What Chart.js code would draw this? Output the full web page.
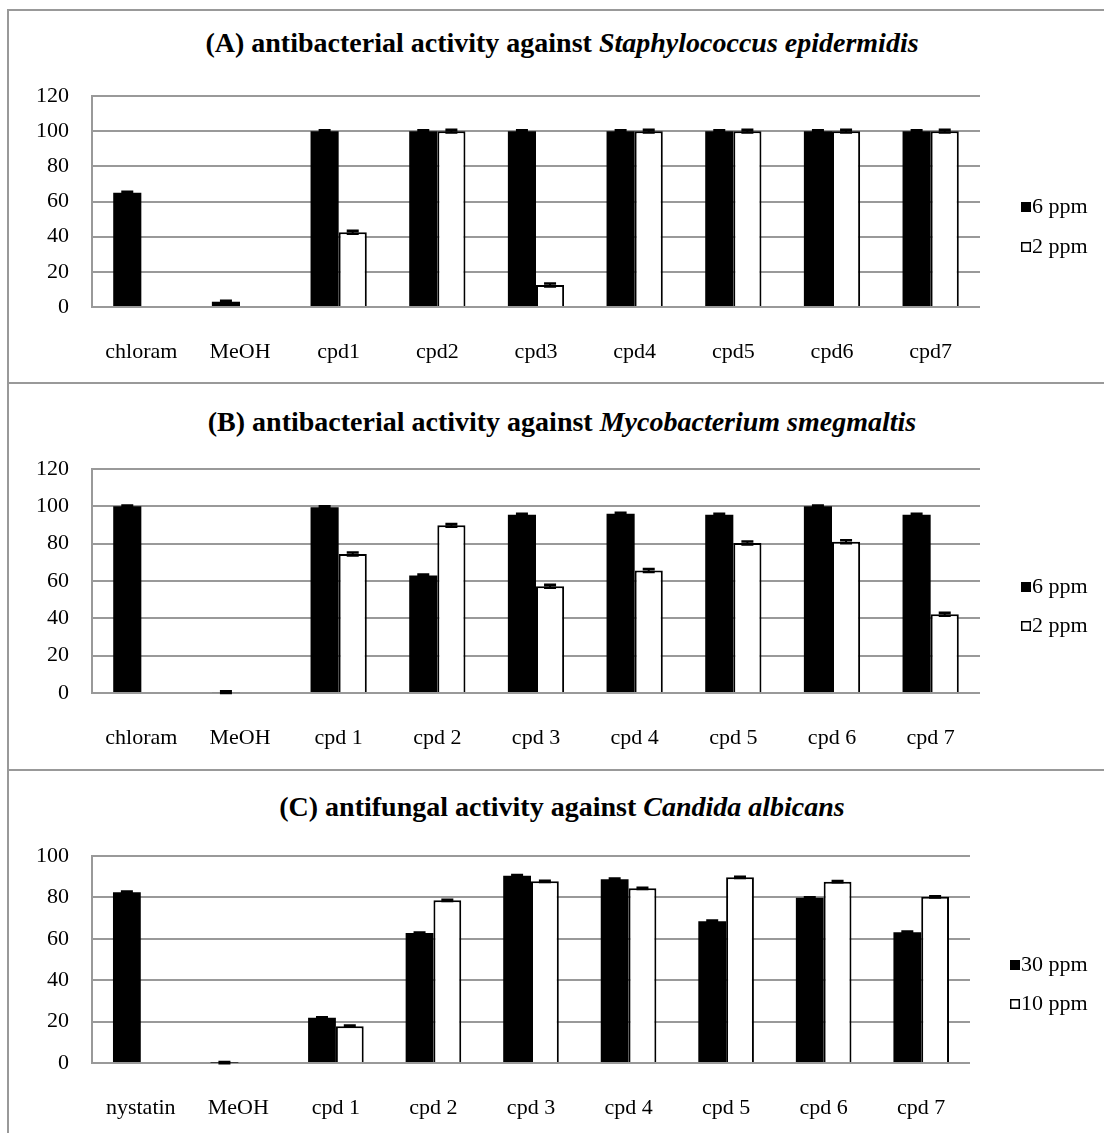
<!DOCTYPE html>
<html>
<head>
<meta charset="utf-8">
<script src="https://cdn.jsdelivr.net/npm/chart.js@4.4.1/dist/chart.umd.min.js"></script>
<style>
  body { margin: 0; background: #fff; width: 1104px; height: 1133px; overflow: hidden; position: relative;
         font-family: 'Liberation Serif', 'Times New Roman', serif; }
  canvas { position: absolute; left: 9px; }
  .title { position: absolute; left: 0; width: 1124px; text-align: center; font-size: 28px;
           font-weight: bold; line-height: 32px; white-space: nowrap; color: #000; }
  .rule { position: absolute; background: #999; }
</style>
</head>
<body>
<div class="rule" style="left:7px; top:9px; width:1097px; height:2px;"></div>
<div class="rule" style="left:7px; top:9px; width:2px; height:1124px;"></div>
<div class="rule" style="left:7px; top:382px; width:1097px; height:2px;"></div>
<div class="rule" style="left:7px; top:769px; width:1097px; height:2px;"></div>

<div class="title" style="top:27px;">(A) antibacterial activity against <i>Staphylococcus epidermidis</i></div>
<div class="title" style="top:406px;">(B) antibacterial activity against <i>Mycobacterium smegmaltis</i></div>
<div class="title" style="top:791px;">(C) antifungal activity against <i>Candida albicans</i></div>

<canvas id="chartA" width="1095" height="371" style="top:11px;"></canvas>
<canvas id="chartB" width="1095" height="385" style="top:384px;"></canvas>
<canvas id="chartC" width="1095" height="362" style="top:771px;"></canvas>

<script>
// categories
const catsA = ['chloram', 'MeOH', 'cpd1', 'cpd2', 'cpd3', 'cpd4', 'cpd5', 'cpd6', 'cpd7'];
const catsB = ['chloram', 'MeOH', 'cpd 1', 'cpd 2', 'cpd 3', 'cpd 4', 'cpd 5', 'cpd 6', 'cpd 7'];
const catsC = ['nystatin', 'MeOH', 'cpd 1', 'cpd 2', 'cpd 3', 'cpd 4', 'cpd 5', 'cpd 6', 'cpd 7'];

// (A) Staphylococcus epidermidis, % inhibition
const a6ppm = [65, 3, 100, 100, 100, 100, 100, 100, 100];
const a2ppm = [null, null, 42.5, 100, 12.5, 100, 100, 100, 100];
const a6err = [0.5, 0.5, 0.5, 0.5, 0.5, 0.5, 0.5, 0.5, 0.5];
const a2err = [0, 0, 0.8, 0.8, 0.8, 0.8, 0.8, 0.8, 0.8];

// (B) Mycobacterium smegmaltis
const b6ppm = [100, 0.5, 99.5, 63, 95.5, 96, 95.5, 100, 95.5];
const b2ppm = [null, null, 74.5, 89.8, 57.2, 65.6, 80.4, 81, 42.2];
const b6err = [0.5, 0.5, 0.5, 0.5, 0.5, 0.5, 0.5, 0.5, 0.5];
const b2err = [0, 0, 0.8, 0.8, 0.8, 0.8, 0.8, 0.8, 0.8];

// (C) Candida albicans
const c30ppm = [82.5, 0.2, 21.8, 62.8, 90.5, 88.8, 68.5, 79.8, 63.2];
const c10ppm = [null, null, 17.8, 78.6, 87.8, 84.4, 89.7, 87.6, 80.3];
const c30err = [0.3, 0.3, 0.3, 0.3, 0.3, 0.3, 0.3, 0.3, 0.3];
const c10err = [0, 0, 0.3, 0.3, 0.3, 0.3, 0.3, 0.3, 0.3];

// y axis ranges
const yMaxAB = 120;
const yMaxC = 100;
const yStep = 20;

const FONT = "'Liberation Serif', 'Times New Roman', serif";
const GRID = '#999';

Chart.defaults.font.family = FONT;
Chart.defaults.color = '#000';

// small black caps on top of every bar
const errorBars = {
    id: 'errorBars',
    afterDatasetsDraw(chart) {
        const ctx = chart.ctx;
        const y = chart.scales.y;
        ctx.save();
        ctx.strokeStyle = '#000';
        chart.data.datasets.forEach((ds, i) => {
            const meta = chart.getDatasetMeta(i);
            meta.data.forEach((bar, j) => {
                const v = ds.data[j];
                if (v == null) return;
                const e = ds.errors[j];
                const top = y.getPixelForValue(v + e);
                const bot = y.getPixelForValue(v - e);
                ctx.lineWidth = 2;
                ctx.beginPath();
                ctx.moveTo(bar.x, top); ctx.lineTo(bar.x, bot);
                ctx.stroke();
                ctx.lineWidth = 2.5;
                ctx.beginPath();
                ctx.moveTo(bar.x - 6, top); ctx.lineTo(bar.x + 6, top);
                ctx.moveTo(bar.x - 6, bot); ctx.lineTo(bar.x + 6, bot);
                ctx.stroke();
            });
        });
        ctx.restore();
    }
};

// legend to the right of the plot, square swatch hugging the text
const sideLegend = {
    id: 'sideLegend',
    afterDraw(chart, args, opts) {
        const ctx = chart.ctx;
        ctx.save();
        ctx.font = '22px ' + FONT;
        ctx.textBaseline = 'middle';
        chart.data.datasets.forEach((ds, i) => {
            const cy = opts.y + i * opts.gap;
            ctx.fillStyle = ds.backgroundColor;
            ctx.fillRect(opts.x, cy - 5, 10, 10);
            if (ds.borderWidth) {
                ctx.lineWidth = 1.5;
                ctx.strokeStyle = ds.borderColor;
                ctx.strokeRect(opts.x + 0.75, cy - 4.25, 8.5, 8.5);
            }
            ctx.fillStyle = '#000';
            ctx.fillText(ds.label, opts.x + 11, cy);
        });
        ctx.restore();
    }
};

function makeChart(id, cats, hi, lo, legend) {
    const ctx = document.getElementById(id).getContext('2d');
    return new Chart(ctx, {
        type: 'bar',
        data: {
            labels: cats,
            datasets: [
                {
                    label: hi.label, data: hi.data, errors: hi.err,
                    backgroundColor: '#000', borderWidth: 0,
                    categoryPercentage: 0.57, barPercentage: 1
                },
                {
                    label: lo.label, data: lo.data, errors: lo.err,
                    backgroundColor: '#fff', borderColor: '#000', borderWidth: 2,
                    categoryPercentage: 0.57, barPercentage: 1
                }
            ]
        },
        options: {
            responsive: false,
            animation: false,
            events: [],
            layout: { padding: { top: 85, right: legend.padRight, left: 0, bottom: 0 } },
            plugins: {
                legend: { display: false },
                tooltip: { enabled: false },
                sideLegend: { x: legend.x, y: legend.y, gap: legend.gap }
            },
            scales: {
                x: {
                    grid: { display: false },
                    border: { display: false },
                    ticks: { font: { size: 22 }, color: '#000', padding: 24, maxRotation: 0, autoSkip: false },
                    afterFit: (s) => { s.height = legend.axisH; }
                },
                y: {
                    min: 0,
                    max: legend.yMax,
                    ticks: { stepSize: yStep, font: { size: 22 }, color: '#000', padding: 23 },
                    grid: { color: GRID, lineWidth: 2, drawTicks: false },
                    border: { display: true, color: GRID, width: 2 },
                    afterFit: (s) => { s.width = 83; }
                }
            }
        },
        plugins: [errorBars, sideLegend]
    });
}

makeChart('chartA', catsA,
    { label: '6 ppm', data: a6ppm, err: a6err },
    { label: '2 ppm', data: a2ppm, err: a2err },
    { padRight: 124, axisH: 75, yMax: yMaxAB, x: 1012, y: 196, gap: 40 });

makeChart('chartB', catsB,
    { label: '6 ppm', data: b6ppm, err: b6err },
    { label: '2 ppm', data: b2ppm, err: b2err },
    { padRight: 124, axisH: 76, yMax: yMaxAB, x: 1012, y: 203, gap: 39 });

makeChart('chartC', catsC,
    { label: '30 ppm', data: c30ppm, err: c30err },
    { label: '10 ppm', data: c10ppm, err: c10err },
    { padRight: 134, axisH: 70, yMax: yMaxC, x: 1001, y: 194, gap: 39 });
</script>
</body>
</html>
